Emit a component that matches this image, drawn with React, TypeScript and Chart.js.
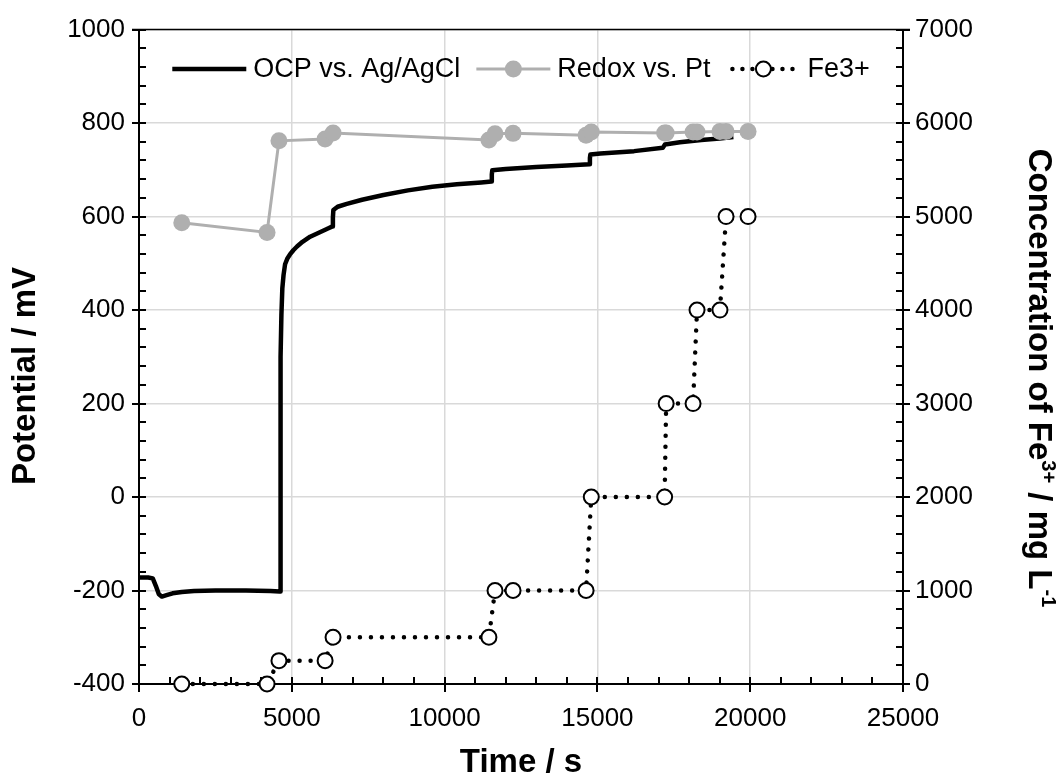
import React, { useEffect, useRef } from 'react';
import { Chart, registerables } from 'chart.js';

Chart.register(...registerables);

const FONT = '"Liberation Sans", Arial, Helvetica, sans-serif';

// OCP vs. Ag/AgCl (time in s, potential in mV)
const ocpTime = [0, 300, 450, 550, 650, 750, 900, 1100, 1400, 1800, 2500, 3500, 4300, 4600, 4615, 4625, 4640, 4660, 4690, 4730, 4780, 4860, 4940, 5050, 5170, 5350, 5600, 5900, 6200, 6330, 6345, 6360, 6500, 6800, 7300, 8000, 8800, 9600, 10400, 11200, 11530, 11545, 11560, 12000, 13000, 14000, 14740, 14755, 14770, 15100, 16200, 17140, 17210, 17700, 18400, 19000, 19450];
const ocpPotential = [-172, -172, -174, -190, -208, -213, -210, -206, -203, -201, -200, -200, -201, -202, -202, 150, 300, 390, 446, 475, 498, 511, 519, 528, 536, 546, 557, 566, 575, 579, 598, 614, 621, 627, 636, 646, 656, 664, 669, 673, 675, 690, 699, 702, 706, 709, 712, 725, 733, 735, 740, 747, 754, 759, 764, 767, 770];

// Sampling times (s)
const sampleTime = [1400, 4190, 4580, 6090, 6350, 11450, 11650, 12240, 14630, 14800, 17200, 17250, 18130, 18260, 19010, 19210, 19930];
// Redox vs. Pt (mV)
const redoxPotential = [587, 566, 762, 766, 779, 764, 777, 778, 774, 781, 779, 779, 781, 781, 782, 782, 782];
// Fe3+ concentration (mg/L)
const fe3Concentration = [0, 0, 250, 250, 500, 500, 1000, 1000, 1000, 2000, 2000, 3000, 3000, 4000, 4000, 5000, 5000];

const legendLabels = ['OCP vs. Ag/AgCl', 'Redox vs. Pt', 'Fe3+'];
const xTitle = 'Time / s';
const yTitle = 'Potential / mV';
const y1TitleParts = [
  { text: 'Concentration of Fe', sup: false },
  { text: '3+', sup: true },
  { text: ' / mg L', sup: false },
  { text: '-1', sup: true },
];

const X_MIN = 0, X_MAX = 25000, X_STEP = 5000, X_MINOR = 1000;
const Y_MIN = -400, Y_MAX = 1000, Y_STEP = 200, Y_MINOR = 40;
const Y1_MIN = 0, Y1_MAX = 7000, Y1_STEP = 1000, Y1_MINOR = 200;

const GRAY = '#afafaf';
const TICK_SIZE = 26;
const TITLE_SIZE = 33;
const LEGEND_SIZE = 27;

const decorPlugin = {
  id: 'decor',
  beforeDatasetsDraw(chart: any) {
    const { ctx, chartArea: ca, scales } = chart;
    const x = scales.x, y = scales.y, y1 = scales.y1;
    ctx.save();
    ctx.strokeStyle = '#000';
    ctx.lineCap = 'butt';
    ctx.lineWidth = 1.5;
    ctx.beginPath();
    ctx.moveTo(ca.left - 7, ca.top);
    ctx.lineTo(ca.right + 7, ca.top);
    ctx.stroke();
    ctx.lineWidth = 2;
    for (let v = X_MIN; v <= X_MAX; v += X_MINOR) {
      const px = Math.round(x.getPixelForValue(v));
      const major = v % X_STEP === 0;
      ctx.beginPath();
      ctx.moveTo(px, ca.bottom - 7);
      ctx.lineTo(px, major ? ca.bottom + 8 : ca.bottom);
      ctx.stroke();
    }
    for (let v = Y_MIN; v <= Y_MAX; v += Y_MINOR) {
      const py = Math.round(y.getPixelForValue(v));
      const major = (v - Y_MIN) % Y_STEP === 0;
      ctx.beginPath();
      ctx.moveTo(major ? ca.left - 7 : ca.left, py);
      ctx.lineTo(ca.left + 7, py);
      ctx.stroke();
    }
    for (let v = Y1_MIN; v <= Y1_MAX; v += Y1_MINOR) {
      const py = Math.round(y1.getPixelForValue(v));
      const major = v % Y1_STEP === 0;
      ctx.beginPath();
      ctx.moveTo(ca.right - 7, py);
      ctx.lineTo(major ? ca.right + 7 : ca.right, py);
      ctx.stroke();
    }
    ctx.restore();
  },
  afterDraw(chart: any) {
    const { ctx, chartArea: ca } = chart;
    const cx = (ca.left + ca.right) / 2;
    ctx.save();
    ctx.fillStyle = '#000';
    ctx.textBaseline = 'middle';
    ctx.textAlign = 'center';

    ctx.font = `bold ${TITLE_SIZE}px ${FONT}`;
    ctx.fillText(xTitle, cx, 763);

    ctx.save();
    ctx.translate(26, 376);
    ctx.rotate(-Math.PI / 2);
    ctx.fillText(yTitle, 0, 0);
    ctx.restore();

    ctx.save();
    ctx.translate(1038, 378);
    ctx.rotate(Math.PI / 2);
    ctx.textAlign = 'left';
    const supSize = Math.round(TITLE_SIZE * 0.62);
    let total = 0;
    for (const p of y1TitleParts) {
      ctx.font = `bold ${p.sup ? supSize : TITLE_SIZE}px ${FONT}`;
      total += ctx.measureText(p.text).width;
    }
    let px = -total / 2;
    for (const p of y1TitleParts) {
      ctx.font = `bold ${p.sup ? supSize : TITLE_SIZE}px ${FONT}`;
      ctx.fillText(p.text, px, p.sup ? -10 : 0);
      px += ctx.measureText(p.text).width;
    }
    ctx.restore();

    ctx.font = `${LEGEND_SIZE}px ${FONT}`;
    ctx.textAlign = 'left';
    const sample = 74, gapText = 7, gapItem = 16;
    const widths = legendLabels.map((l) => ctx.measureText(l).width);
    const totalW = widths.reduce((a, b) => a + b, 0) + 3 * (sample + gapText) + 2 * gapItem;
    let lx = cx - totalW / 2;
    const ly = 69;
    legendLabels.forEach((label, i) => {
      ctx.save();
      if (i === 0) {
        ctx.strokeStyle = '#000';
        ctx.lineWidth = 4.5;
        ctx.beginPath();
        ctx.moveTo(lx, ly);
        ctx.lineTo(lx + sample, ly);
        ctx.stroke();
      } else if (i === 1) {
        ctx.strokeStyle = GRAY;
        ctx.lineWidth = 3;
        ctx.beginPath();
        ctx.moveTo(lx, ly);
        ctx.lineTo(lx + sample, ly);
        ctx.stroke();
        ctx.fillStyle = GRAY;
        ctx.beginPath();
        ctx.arc(lx + sample / 2, ly, 8.5, 0, Math.PI * 2);
        ctx.fill();
      } else {
        ctx.strokeStyle = '#000';
        ctx.lineWidth = 4.5;
        ctx.lineCap = 'round';
        ctx.setLineDash([0.01, 10]);
        ctx.beginPath();
        ctx.moveTo(lx + 6, ly);
        ctx.lineTo(lx + sample - 4, ly);
        ctx.stroke();
        ctx.setLineDash([]);
        ctx.fillStyle = '#fff';
        ctx.lineWidth = 2;
        ctx.beginPath();
        ctx.arc(lx + sample / 2, ly, 7.5, 0, Math.PI * 2);
        ctx.fill();
        ctx.stroke();
      }
      ctx.restore();
      lx += sample + gapText;
      ctx.fillStyle = '#000';
      ctx.fillText(label, lx, ly + 1);
      lx += widths[i] + gapItem;
    });
    ctx.restore();
  },
};

const plainTick = (v: any) => String(v);

export default function App() {
  const canvasRef = useRef<HTMLCanvasElement | null>(null);

  useEffect(() => {
    document.body.style.margin = '0';
    const canvas = canvasRef.current;
    if (!canvas) return;

    const ocpData = ocpTime.map((t, i) => ({ x: t, y: ocpPotential[i] }));
    const redoxData = sampleTime.map((t, i) => ({ x: t, y: redoxPotential[i] }));
    const feData = sampleTime.map((t, i) => ({ x: t, y: fe3Concentration[i] }));

    const tickFont = { family: FONT, size: TICK_SIZE };

    const chart = new Chart(canvas, {
      type: 'line',
      data: {
        datasets: [
          {
            label: legendLabels[0],
            data: ocpData,
            yAxisID: 'y',
            borderColor: '#000',
            borderWidth: 4.5,
            pointRadius: 0,
            tension: 0,
            order: 3,
            borderJoinStyle: 'round',
          },
          {
            label: legendLabels[1],
            data: redoxData,
            yAxisID: 'y',
            borderColor: GRAY,
            backgroundColor: GRAY,
            borderWidth: 3,
            pointRadius: 8.5,
            pointBorderWidth: 0,
            pointBackgroundColor: GRAY,
            tension: 0,
            order: 2,
            clip: false,
          },
          {
            label: legendLabels[2],
            data: feData,
            yAxisID: 'y1',
            borderColor: '#000',
            borderWidth: 4.5,
            borderDash: [0.01, 11],
            borderCapStyle: 'round',
            pointRadius: 7.5,
            pointBorderWidth: 2,
            pointBorderColor: '#000',
            pointBackgroundColor: '#fff',
            tension: 0,
            order: 1,
            clip: false,
          },
        ] as any,
      },
      options: {
        animation: false,
        responsive: false,
        maintainAspectRatio: false,
        layout: { padding: { top: 27, left: 0, right: 0, bottom: 0 } },
        plugins: {
          legend: { display: false },
          tooltip: { enabled: false },
          title: { display: false },
        },
        scales: {
          x: {
            type: 'linear',
            min: X_MIN,
            max: X_MAX,
            ticks: { stepSize: X_STEP, font: tickFont, color: '#000', padding: 19, maxRotation: 0, callback: plainTick },
            grid: { color: '#d9d9d9', lineWidth: 1.5, drawTicks: false },
            border: { color: '#000', width: 2 },
            afterFit: (s: any) => { s.height = 100; },
          },
          y: {
            type: 'linear',
            position: 'left',
            min: Y_MIN,
            max: Y_MAX,
            ticks: { stepSize: Y_STEP, font: tickFont, color: '#000', padding: 14, callback: plainTick },
            grid: { color: '#d9d9d9', lineWidth: 1.5, drawTicks: false },
            border: { color: '#000', width: 2 },
            afterFit: (s: any) => { s.width = 139; },
          },
          y1: {
            type: 'linear',
            position: 'right',
            min: Y1_MIN,
            max: Y1_MAX,
            ticks: { stepSize: Y1_STEP, font: tickFont, color: '#000', padding: 12, callback: plainTick },
            grid: { display: false, drawTicks: false },
            border: { color: '#000', width: 2 },
            afterFit: (s: any) => { s.width = 158; },
          },
        },
      } as any,
      plugins: [decorPlugin],
    });

    return () => chart.destroy();
  }, []);

  return (
    <div style={{ width: 1061, height: 784, background: '#fff' }}>
      <canvas ref={canvasRef} width={1061} height={784} style={{ display: 'block' }} />
    </div>
  );
}
